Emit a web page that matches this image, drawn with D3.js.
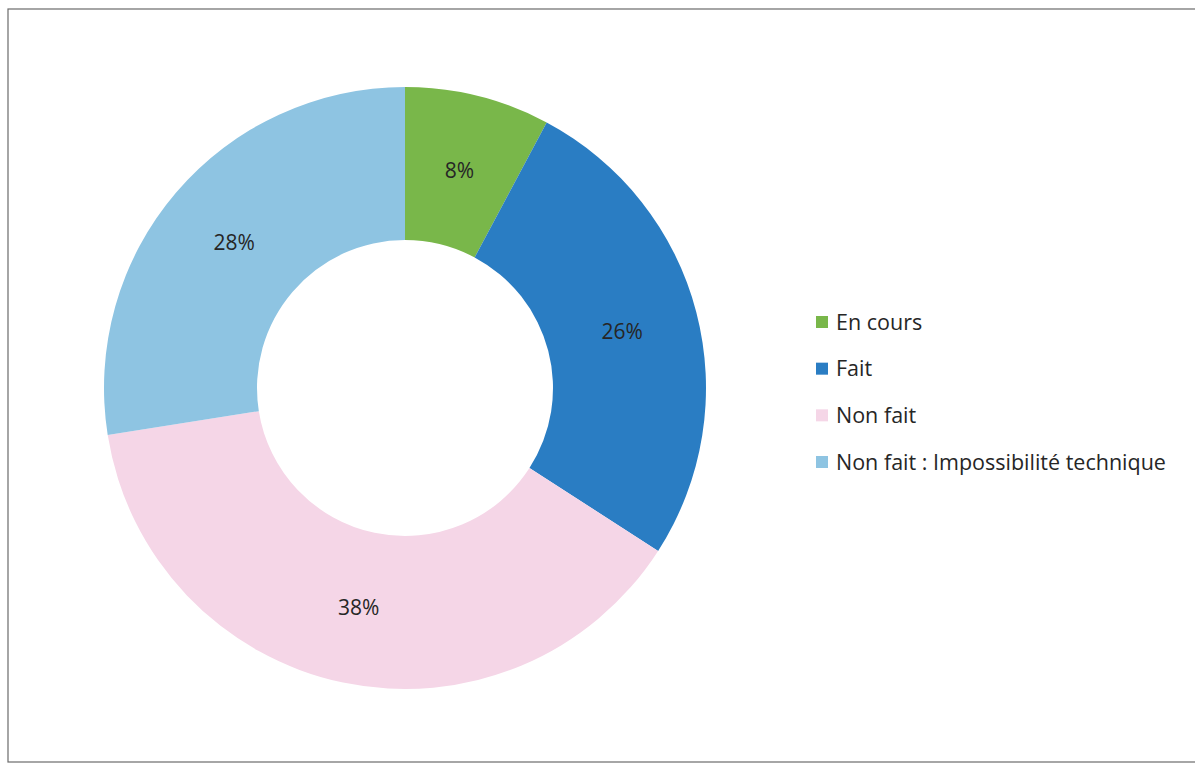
<!DOCTYPE html>
<meta charset="utf-8">
<title>Donut</title>
<style>
    body { margin: 0; background: #fff; }
    text { font-family: "Open Sans", "Noto Sans", sans-serif; fill: #262626; }
</style>

<svg width="1195" height="765"></svg>

<script src="https://cdnjs.cloudflare.com/ajax/libs/d3/7.8.5/d3.min.js"></script>
<script>

    var categories = ["En cours", "Fait", "Non fait", "Non fait : Impossibilité technique"];
    var values = [7.8, 26.3, 38.4, 27.5];
    var labels = ["8%", "26%", "38%", "28%"];
    var colors = ["#79b74a", "#2a7dc3", "#f5d6e7", "#8ec4e2"];

    var svg = d3.select("svg");

    // scanned frame
    svg.append("rect")
        .attr("x", 8).attr("y", 9)
        .attr("width", 1200).attr("height", 753)
        .attr("fill", "none")
        .attr("stroke", "#6b6b6b")
        .attr("stroke-width", 1.2);

    var cx = 405, cy = 388, outerR = 301, innerR = 148;

    var pie = d3.pie().sort(null).value(function (d) { return d; });
    var arc = d3.arc().innerRadius(innerR).outerRadius(outerR);
    var labelArc = d3.arc().innerRadius((innerR + outerR) / 2).outerRadius((innerR + outerR) / 2);

    var g = svg.append("g").attr("transform", "translate(" + cx + "," + cy + ")");

    var arcs = pie(values);

    g.selectAll("path")
        .data(arcs)
        .enter().append("path")
        .attr("d", arc)
        .attr("fill", function (d, i) { return colors[i]; });

    g.selectAll("text")
        .data(arcs)
        .enter().append("text")
        .attr("transform", function (d) { return "translate(" + labelArc.centroid(d) + ")"; })
        .attr("text-anchor", "middle")
        .attr("dy", "0.35em")
        .style("font-size", "21px")
        .text(function (d, i) { return labels[i]; });

    // legend
    var legendY = d3.scalePoint().domain(categories).range([322, 462]);

    var legend = svg.append("g")
        .selectAll("g")
        .data(categories)
        .enter().append("g")
        .attr("transform", function (d) { return "translate(816," + legendY(d) + ")"; });

    legend.append("rect")
        .attr("x", 0).attr("y", -6)
        .attr("width", 12).attr("height", 12)
        .attr("fill", function (d, i) { return colors[i]; });

    legend.append("text")
        .attr("x", 20)
        .attr("dy", "0.35em")
        .style("font-size", "21.5px")
        .text(function (d) { return d; });

</script>
